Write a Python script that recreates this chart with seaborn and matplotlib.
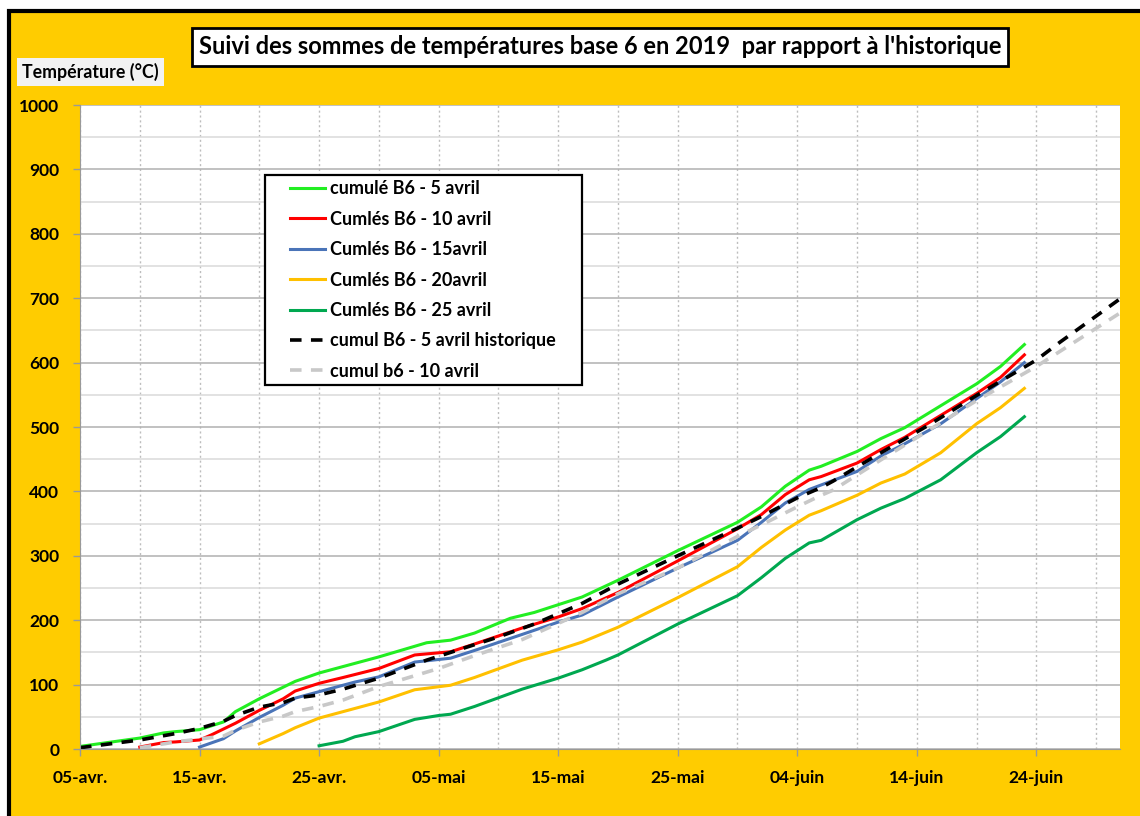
import pandas as pd
import numpy as np
import matplotlib as mpl
import matplotlib.pyplot as plt
import matplotlib.dates as mdates
from matplotlib import ticker
from matplotlib.patches import Rectangle
from matplotlib.lines import Line2D
from matplotlib.legend_handler import HandlerLine2D
import seaborn as sns

# data: day offsets from 05 avril 2019 and cumulated degree-days (base 6)
start_date = pd.Timestamp("2019-04-05")

green5_days = [0, 5, 7, 8, 10, 12, 13, 15, 17, 18, 20, 22, 25, 29, 31, 33, 36, 38, 42, 45, 50, 55, 57, 59, 61, 62, 65, 67, 69, 72, 75, 77, 79]
green5_vals = [4, 17, 25, 27, 30, 42, 58, 78, 96, 105, 118, 128, 143, 165, 169, 180, 203, 212, 236, 262, 308, 352, 376, 408, 433, 439, 462, 482, 499, 533, 567, 594, 628]

red10_days = [5, 7, 8, 10, 11, 13, 15, 17, 18, 20, 22, 25, 28, 31, 33, 37, 40, 42, 45, 50, 55, 57, 59, 61, 62, 65, 67, 69, 72, 75, 77, 79]
red10_vals = [3, 10, 11, 14, 22, 40, 60, 78, 90, 102, 111, 125, 146, 151, 163, 188, 205, 218, 243, 292, 342, 364, 395, 418, 423, 444, 465, 484, 518, 552, 577, 612]

blue15_days = [10, 12, 13, 15, 17, 18, 20, 22, 23, 25, 28, 31, 33, 37, 40, 42, 45, 50, 55, 57, 59, 61, 62, 65, 67, 69, 72, 75, 77, 79]
blue15_vals = [3, 16, 28, 49, 68, 79, 89, 99, 104, 112, 135, 141, 153, 178, 197, 208, 236, 281, 324, 352, 382, 403, 410, 431, 455, 474, 505, 544, 570, 600]

yellow20_days = [15, 17, 18, 20, 22, 23, 25, 28, 31, 33, 37, 40, 42, 45, 50, 55, 57, 59, 61, 62, 65, 67, 69, 72, 75, 77, 79]
yellow20_vals = [8, 24, 33, 48, 58, 63, 73, 92, 99, 111, 138, 154, 166, 189, 235, 283, 313, 340, 363, 370, 394, 413, 427, 460, 505, 530, 560]

dgreen25_days = [20, 22, 23, 25, 28, 30, 31, 33, 37, 40, 42, 44, 45, 50, 55, 57, 59, 61, 62, 65, 67, 69, 72, 75, 77, 79]
dgreen25_vals = [5, 12, 19, 27, 46, 52, 54, 66, 93, 110, 123, 138, 146, 194, 238, 266, 296, 320, 324, 356, 374, 389, 418, 460, 485, 516]

hist5_days = [0, 5, 8, 10, 12, 13, 15, 17, 18, 20, 22, 25, 29, 31, 35, 38, 42, 45, 50, 55, 57, 60, 62, 63, 67, 71, 75, 80, 82, 87]
hist5_vals = [2, 14, 24, 32, 43, 52, 65, 72, 79, 84, 93, 110, 138, 150, 174, 194, 226, 256, 300, 343, 361, 390, 406, 416, 460, 503, 549, 604, 632, 699]

hist10_days = [5, 8, 12, 13, 15, 17, 18, 20, 22, 25, 30, 33, 37, 40, 42, 45, 50, 55, 57, 60, 62, 63, 67, 71, 75, 80, 87]
hist10_vals = [2, 11, 20, 29, 42, 51, 58, 66, 76, 97, 125, 145, 170, 195, 212, 241, 281, 330, 348, 376, 394, 402, 449, 495, 541, 594, 677]

series_labels = ["cumulé B6 - 5 avril", "Cumlés B6 - 10 avril", "Cumlés B6 - 15avril",
                 "Cumlés B6 - 20avril", "Cumlés B6 - 25 avril",
                 "cumul B6 - 5 avril historique", "cumul b6 - 10 avril"]
x_tick_labels = ["05-avr.", "15-avr.", "25-avr.", "05-mai", "15-mai", "25-mai", "04-juin", "14-juin", "24-juin"]

all_series = [
    (green5_days, green5_vals, "#22EE22", "-"),
    (red10_days, red10_vals, "#FF0000", "-"),
    (blue15_days, blue15_vals, "#4A74B8", "-"),
    (yellow20_days, yellow20_vals, "#FFC000", "-"),
    (dgreen25_days, dgreen25_vals, "#00A850", "-"),
    (hist5_days, hist5_vals, "#000000", "--"),
    (hist10_days, hist10_vals, "#C8C8C8", "--"),
]

orange = "#FFCC00"
plt.rcParams["font.family"] = ["Lato", "DejaVu Sans"]
plt.rcParams["font.weight"] = "bold"

fig = plt.figure(figsize=(11.4, 8.16), dpi=100, facecolor="white")
# orange frame with black border, behind everything
fig.patches.append(Rectangle((9 / 1140, -0.05), 1.1, 1.05 - 11 / 816, transform=fig.transFigure,
                             facecolor=orange, edgecolor="black", linewidth=3, zorder=-10))

ax = fig.add_axes([80 / 1140, 1 - 749 / 816, 1040 / 1140, 644 / 816])
ax.set_facecolor("white")

for (days, vals, col, ls), lab in zip(all_series, series_labels):
    df = pd.DataFrame({"date": start_date + pd.to_timedelta(days, unit="D"), "value": vals})
    sns.lineplot(data=df, x="date", y="value", color=col, linewidth=2.2, label=lab, ax=ax, sort=False)
    if ls == "--":
        ax.lines[-1].set_linewidth(2.6)
        ax.lines[-1].set_dashes((3.2, 2.6))

# axes limits / ticks
ax.set_xlim(start_date, start_date + pd.Timedelta(days=87))
ax.set_ylim(0, 1000)
tick_dates = [start_date + pd.Timedelta(days=10 * i) for i in range(len(x_tick_labels))]
ax.set_xticks(tick_dates)
ax.set_xticklabels(x_tick_labels)
ax.set_xticks([start_date + pd.Timedelta(days=5 * i) for i in range(18)], minor=True)
ax.yaxis.set_major_locator(ticker.MultipleLocator(100))
ax.yaxis.set_minor_locator(ticker.MultipleLocator(50))

ax.grid(axis="y", which="major", color="#B0B0B0", linewidth=1.1)
ax.grid(axis="y", which="minor", color="#DADADA", linewidth=1.1)
ax.grid(axis="x", which="both", color="#BDBDBD", linewidth=1, linestyle=(0, (1.5, 2)))
ax.set_axisbelow(True)

ax.tick_params(axis="both", which="major", labelsize=12.5, length=5, color="#999999", width=1, pad=10)
ax.tick_params(axis="y", which="minor", length=0)
ax.tick_params(axis="x", which="minor", length=0)
for lbl in ax.get_xticklabels() + ax.get_yticklabels():
    lbl.set_fontweight("bold")

for s in ["top", "right"]:
    ax.spines[s].set_visible(False)
ax.spines["left"].set_color("#999999")
ax.spines["bottom"].set_color("#999999")
ax.set_xlabel("")
ax.set_ylabel("")

# legend: box stretched to the reference width, handles pushed to the right
leg_top = (749 - 175) / 644
leg = ax.legend(loc="upper left", bbox_to_anchor=(0.178, leg_top - 0.4, 317 / 1040, 0.4), mode="expand",
                fontsize=13, frameon=True, fancybox=False, edgecolor="black", framealpha=1,
                handlelength=3.02, handletextpad=0.28, labelspacing=0.74, borderpad=0.3,
                borderaxespad=0, handler_map={Line2D: HandlerLine2D(xpad=1.085)})
leg.get_frame().set_linewidth(1.6)
for t in leg.get_texts():
    t.set_fontweight("bold")

# title and y label boxes
fig.text(600 / 1140, 1 - 47 / 816, "Suivi des sommes de températures base 6 en 2019  par rapport à l'historique",
         ha="center", va="center", fontsize=17, fontweight="bold",
         bbox=dict(boxstyle="square,pad=0.3", facecolor="white", edgecolor="black", linewidth=2))
fig.text(22 / 1140, 1 - 72 / 816, "Température (°C)", ha="left", va="center", fontsize=12.8,
         fontweight="bold", bbox=dict(boxstyle="square,pad=0.3", facecolor="#F2F2F2", edgecolor="none"))

plt.savefig("out.png", dpi=100, facecolor=fig.get_facecolor())
